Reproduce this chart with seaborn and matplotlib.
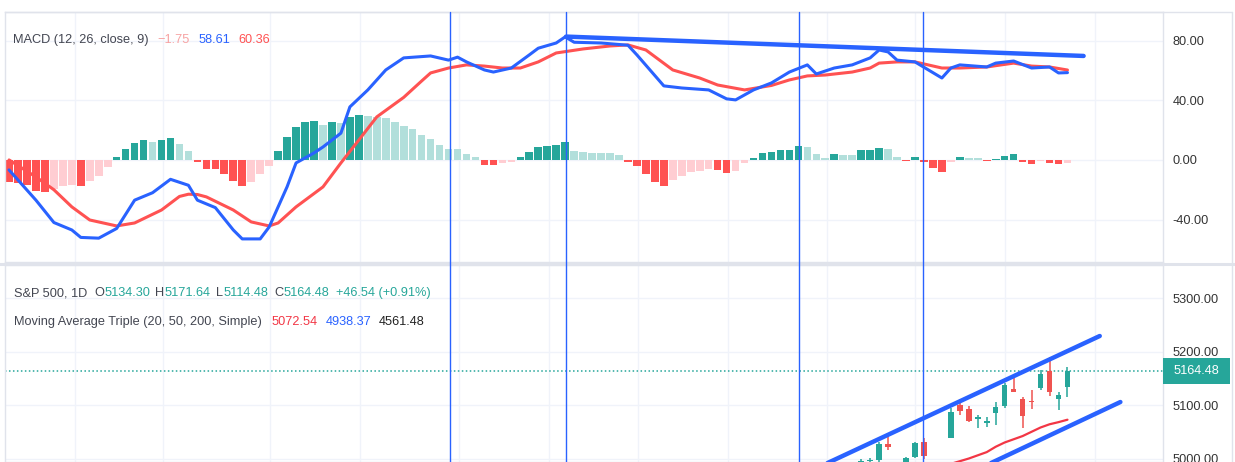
import numpy as np
import pandas as pd
import matplotlib
matplotlib.use("Agg")
import matplotlib.pyplot as plt
import matplotlib.transforms as mtransforms
from matplotlib.lines import Line2D
from matplotlib.patches import Rectangle
import seaborn as sns

# ---- MACD panel data (one histogram value per daily bar, bar 0 .. 118) ----
hist = [-15, -15.8, -17, -20.6, -21.7, -19.5, -17.5, -16.5, -17.2, -14, -10.5, -5,
        1.8, 7.2, 11.6, 13.4, 11.9, 13.4, 14.5, 10.5, 6,
        -1.6, -6, -6.3, -9.4, -13.9, -17.2, -14.5, -9.4, -3.8,
        6.3, 15.7, 21.9, 25.3, 26.2, 23.5, 25.7, 24.6, 29, 30.2, 29.8, 29, 28, 25.3,
        23, 20.8, 16.8, 13.9, 10, 7.4, 7.2, 3.8, 2.2,
        -3.4, -3.6, -2.2, -1.5,
        2.0, 5.3, 8.5, 9.6, 10.3, 11.9, 6.3, 5.6, 4.8, 4.7, 4.6, 3.4,
        -1.1, -3.8, -9.4, -14.5, -17.2, -13.4, -11, -8.3, -7.2, -6, -6.5, -8.7, -7.2, -2.2,
        1.1, 4.7, 5.6, 6.7, 7.0, 9.2, 9.0, 3.8,
        1.6, 4, 3.4, 3.3, 6.7, 6.8, 7.8, 7.4, 1.8, -0.7, 2.2, -1.6, -5.6, -7.8, -1.1,
        1.8, 1.1, 1.0, -0.7, 0.5, 2.9, 4, -1.6, -2.9, -0.7, -1.8, -2.9, -1.75]

macd_x = [0, 3, 5, 7, 8, 10, 12, 14, 16, 18, 20, 21, 23, 25, 26, 28, 29, 31, 32, 34, 35,
          37, 38, 40, 42, 44, 47, 49, 50, 51, 53, 54, 56, 58, 59, 61, 62, 63, 66, 69, 70,
          73, 75, 78, 80, 81, 83, 85, 87, 89, 90, 92, 94, 96, 97, 98, 99, 101, 104, 105,
          106, 109, 110, 112, 114, 116, 117, 118]
macd_y = [-6.7, -27, -42, -47, -52, -52.5, -46, -27, -22, -13, -17, -27, -32, -47, -53,
          -53, -45, -18, -2, 4.7, 8.7, 18, 35.6, 47, 60.4, 68.5, 69.8, 67, 69, 65.8, 60.4,
          59, 61.7, 70.5, 75, 78.5, 82.6, 79, 78.5, 77, 70.5, 49.7, 48.3, 47, 41, 40.3, 47,
          51.7, 59, 63.8, 57.7, 61.7, 63.8, 68.5, 73.8, 72.5, 67, 65.8, 55, 61.7, 63.8,
          62.4, 65, 66.4, 61.7, 62.4, 58.4, 58.61]

sig_x = [0, 3, 5, 7, 9, 12, 14, 17, 19, 20, 21, 22, 25, 27, 29, 30, 32, 35, 37, 39, 41,
         44, 46, 47, 49, 51, 53, 55, 57, 59, 61, 64, 67, 69, 71, 74, 77, 79, 82, 85, 87,
         89, 91, 94, 96, 97, 99, 101, 104, 106, 109, 112, 114, 116, 118]
sig_y = [0, -11.4, -20, -31.5, -40.3, -44.3, -42.3, -33.6, -24.5, -23, -23.2, -24.8,
         -33.6, -41.6, -44.3, -42.3, -31.5, -18.1, -2, 13.4, 28.9, 42, 53, 58.4, 61.7,
         63.8, 63, 61.7, 61.7, 65.8, 71.8, 74.5, 76.5, 77.2, 73.8, 60.4, 55, 50.3, 47, 50,
         53.7, 56.4, 57, 59, 61.7, 65, 65.8, 65.8, 61.7, 61.7, 62.4, 65, 63, 62.4, 60.36]

macd_trend_x = [62.1, 119.8]
macd_trend_y = [82.8, 69.8]

marker_x = [49.2, 62.1, 88.1, 101.9]          # drawn vertical markers
date_grid_x = [7.4, 17.2, 29.1, 39.1, 50.2, 60.2, 70.1, 80.2, 91.2, 101.0, 111.0, 121.1]

# ---- price panel data (bars 95 .. 118) ----
candle_x = list(range(95, 119))
opens = [4973.0, 4995.2, 4997.9, 5026.8, 4967.9, 4976.4, 5003.1, 5031.1, 4989.3, 4963.0,
         5038.8, 5100.9, 5093.0, 5074.6, 5067.2, 5085.4, 5098.5, 5130.5, 5110.5, 5108.0,
         5132.4, 5164.5, 5111.9, 5134.30]
highs = [4999.9, 5000.4, 5030.1, 5048.4, 4975.3, 5002.5, 5030.1, 5038.7, 4993.7, 4983.2,
         5094.4, 5111.1, 5097.7, 5080.7, 5077.4, 5105.0, 5140.3, 5149.7, 5114.5, 5128.0,
         5165.6, 5189.3, 5124.7, 5171.64]
lows = [4969.8, 4987.1, 4988.0, 5016.0, 4920.3, 4956.5, 5000.3, 4999.5, 4955.0, 4946.8,
        5038.8, 5081.5, 5068.9, 5057.3, 5058.4, 5061.9, 5094.2, 5127.2, 5056.8, 5092.2,
        5128.2, 5117.5, 5091.1, 5114.48]
closes = [4995.1, 4997.9, 5026.6, 5021.8, 4953.2, 5000.6, 5029.7, 5005.6, 4975.5, 4981.8,
          5087.0, 5088.8, 5069.5, 5078.2, 5069.8, 5096.3, 5137.1, 5125.0, 5078.7, 5104.8,
          5157.4, 5123.7, 5117.9, 5164.48]

ma20_x = list(range(104, 119))
ma20 = [4985, 4990, 4995, 5000, 5006, 5012, 5022, 5030, 5036, 5042, 5050, 5058, 5064,
        5068, 5072.54]

upper_x = [89, 121.6]
upper_y = [4974, 5229]
lower_x = [107, 123.9]
lower_y = [4972, 5105.6]
last_price = 5164.48

macd_ticks = [80, 40, 0, -40]
price_ticks = [5000, 5100, 5200, 5300]

# ---- style ----
BLUE = "#2962ff"
RED = "#ff5252"
TEAL = "#26a69a"
CANDLE_RED = "#ef5350"
GRID = "#f0f3fa"
BORDER = "#e0e3eb"
TXT = "#434651"

sns.set_style("white")
plt.rcParams["font.family"] = ["Liberation Sans", "DejaVu Sans"]
FS = 9.2

W, H = 1235, 462
fig = plt.figure(figsize=(W / 100, H / 100), dpi=100)
fig.patch.set_facecolor("white")


def fx(px):
    return px / W


def fy(py):
    return 1 - py / H


ax1 = fig.add_axes([fx(5), fy(262), fx(1163) - fx(5), fy(12) - fy(262)])
ax2 = fig.add_axes([fx(5), fy(462), fx(1163) - fx(5), fy(265) - fy(462)])

# ---- MACD panel ----
df = pd.DataFrame({"bar": np.arange(len(hist)), "hist": hist})
prev = df["hist"].shift(1).fillna(0)
df["kind"] = np.where(df["hist"] >= 0,
                      np.where(df["hist"] > prev, "grow_up", "fall_up"),
                      np.where(df["hist"] < prev, "grow_down", "fall_down"))
pal = {"grow_up": TEAL, "fall_up": "#b2dfdb", "grow_down": RED, "fall_down": "#ffcdd2"}
sns.barplot(data=df, x="bar", y="hist", hue="kind", palette=pal, native_scale=True,
            dodge=False, width=0.85, errorbar=None, legend=False, saturation=1,
            linewidth=0, ax=ax1, zorder=2)
sns.lineplot(x=macd_x, y=macd_y, color=BLUE, lw=2.2, ax=ax1, zorder=4)
sns.lineplot(x=sig_x, y=sig_y, color=RED, lw=2.2, ax=ax1, zorder=3)
ax1.plot(macd_trend_x, macd_trend_y, color=BLUE, lw=3.2, solid_capstyle="round", zorder=5)

ax1.set_xlim(-0.45, 128.65)
ax1.set_ylim(-68.5, 99.3)
ax1.set_yticks(macd_ticks)
ax1.set_yticklabels([f"{v:.2f}" for v in macd_ticks])

# ---- price panel ----
cols = [TEAL if c >= o else CANDLE_RED for o, c in zip(opens, closes)]
ax2.vlines(candle_x, lows, highs, colors=cols, lw=1.1, zorder=3)
body_lo = [min(o, c) for o, c in zip(opens, closes)]
body_h = [max(abs(c - o), 1.5) for o, c in zip(opens, closes)]
ax2.bar(candle_x, body_h, bottom=body_lo, width=0.62, color=cols, lw=0, zorder=4)
sns.lineplot(x=ma20_x, y=ma20, color="#f23645", lw=1.6, ax=ax2, zorder=5)
ax2.plot(upper_x, upper_y, color=BLUE, lw=3.2, solid_capstyle="round", zorder=6)
ax2.plot(lower_x, lower_y, color=BLUE, lw=3.2, solid_capstyle="round", zorder=6)
ax2.axhline(last_price, color=TEAL, lw=1.1, ls=(0, (1, 1.6)), zorder=2)

ax2.set_xlim(-0.45, 128.65)
ax2.set_ylim(4993.5, 5361.7)
ax2.set_yticks(price_ticks)
ax2.set_yticklabels([f"{v:.2f}" for v in price_ticks])

for ax in (ax1, ax2):
    ax.set_xlabel("")
    ax.set_ylabel("")
    ax.set_xticks(date_grid_x)
    ax.set_xticklabels([])
    ax.yaxis.tick_right()
    ax.tick_params(axis="both", length=0)
    ax.tick_params(axis="y", pad=7, labelsize=FS, labelcolor="#333333")
    ax.grid(True, color=GRID, lw=1, zorder=0)
    ax.set_axisbelow(True)
    for s in ax.spines.values():
        s.set_color(BORDER)
        s.set_linewidth(1)

# panel separator and outer frame
fig.lines.append(Line2D([fx(0), fx(1235)], [fy(263.5), fy(263.5)], transform=fig.transFigure,
                        color=BORDER, lw=2.2, zorder=1))
fig.lines.append(Line2D([fx(5), fx(1232)], [fy(12), fy(12)], transform=fig.transFigure,
                        color=BORDER, lw=1, zorder=1))
fig.lines.append(Line2D([fx(1232), fx(1232)], [fy(12), fy(462)], transform=fig.transFigure,
                        color=BORDER, lw=1, zorder=1))

# vertical markers run through both panes (x in bars, y in figure)
vtrans = mtransforms.blended_transform_factory(ax2.transData, fig.transFigure)
for m in marker_x:
    fig.lines.append(Line2D([m, m], [fy(462), fy(12)], transform=vtrans, color=BLUE,
                            lw=1.0, zorder=5))

# last price tag on the price scale
fig.patches.append(Rectangle((fx(1163), fy(384)), fx(1230) - fx(1163), fy(358) - fy(384),
                             transform=fig.transFigure, facecolor=TEAL, edgecolor="none",
                             zorder=10))
fig.text(fx(1196), fy(371), f"{last_price:.2f}", color="white", fontsize=FS,
         ha="center", va="center", zorder=11)

# ---- legends / headers: segments flow left to right (text, colour, gap before in px) ----
macd_head = [("MACD (12, 26, close, 9)", TXT, 0), ("\u22121.75", "#f7a3a3", 9),
             ("58.61", BLUE, 9), ("60.36", RED, 8)]
price_head = [("S&P 500, 1D", TXT, 0), ("O", TXT, 7), ("5134.30", TEAL, 0),
              ("H", TXT, 5), ("5171.64", TEAL, 0), ("L", TXT, 6),
              ("5114.48", TEAL, 0), ("C", TXT, 6), ("5164.48", TEAL, 0),
              ("+46.54 (+0.91%)", TEAL, 7)]
ma_head = [("Moving Average Triple (20, 50, 200, Simple)", TXT, 0),
           ("5072.54", "#f23645", 10), ("4938.37", BLUE, 8), ("4561.48", "#222222", 7)]

renderer = fig.canvas.get_renderer()
for row, x0, ypx in ((macd_head, 13, 40), (price_head, 14, 293), (ma_head, 14, 322)):
    xpx = x0
    for s, c, gap in row:
        xpx += gap
        t = fig.text(fx(xpx), fy(ypx), s, color=c, fontsize=FS, ha="left", va="center")
        xpx += t.get_window_extent(renderer).width

fig.savefig("out.png", dpi=100, facecolor="white")
